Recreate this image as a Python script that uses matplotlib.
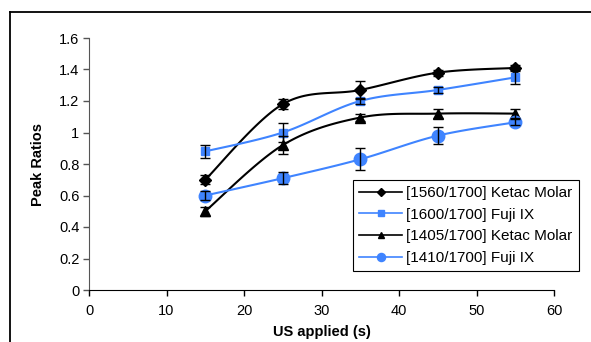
import matplotlib
matplotlib.use("Agg")
import matplotlib.pyplot as plt
import numpy as np
from matplotlib.lines import Line2D

plt.rcParams["font.family"] = ["Liberation Sans", "DejaVu Sans"]
plt.rcParams["font.size"] = 10.5

x = [15, 25, 35, 45, 55]
ketac_1560 = [0.70, 1.18, 1.27, 1.38, 1.41]
ketac_1560_err = [0.03, 0.03, 0.055, 0.02, 0.02]
fuji_1600 = [0.88, 1.00, 1.20, 1.27, 1.35]
fuji_1600_err = [0.04, 0.06, 0.02, 0.02, 0.045]
ketac_1405 = [0.50, 0.92, 1.095, 1.12, 1.12]
ketac_1405_err = [0.03, 0.055, 0.02, 0.03, 0.03]
fuji_1410 = [0.60, 0.71, 0.83, 0.98, 1.065]
fuji_1410_err = [0.03, 0.04, 0.07, 0.055, 0.02]

labels = ["[1560/1700] Ketac Molar", "[1600/1700] Fuji IX",
          "[1405/1700] Ketac Molar", "[1410/1700] Fuji IX"]

BLUE = "#3F84FF"


def smooth(xs, ys, n=30):
    # excel-style bezier smoothing through the points
    xs = np.asarray(xs, float)
    ys = np.asarray(ys, float)
    px = np.concatenate([[xs[0]], xs, [xs[-1]]])
    py = np.concatenate([[ys[0]], ys, [ys[-1]]])
    outx, outy = [], []
    t = np.linspace(0, 1, n)
    for i in range(1, len(px) - 2):
        p0 = np.array([px[i], py[i]])
        p3 = np.array([px[i + 1], py[i + 1]])
        p1 = p0 + (np.array([px[i + 1], py[i + 1]]) - np.array([px[i - 1], py[i - 1]])) / 6
        p2 = p3 - (np.array([px[i + 2], py[i + 2]]) - np.array([px[i], py[i]])) / 6
        b = ((1 - t) ** 3)[:, None] * p0 + (3 * (1 - t) ** 2 * t)[:, None] * p1 \
            + (3 * (1 - t) * t ** 2)[:, None] * p2 + (t ** 3)[:, None] * p3
        outx.extend(b[:, 0])
        outy.extend(b[:, 1])
    return outx, outy


fig = plt.figure(figsize=(5.91, 3.42), dpi=100)
ax = fig.add_axes([89 / 591, 52 / 342, 465 / 591, 252 / 342])

series = [
    (ketac_1560, ketac_1560_err, "black", "D", 6),
    (fuji_1600, fuji_1600_err, BLUE, "s", 6),
    (ketac_1405, ketac_1405_err, "black", "^", 7),
    (fuji_1410, fuji_1410_err, BLUE, "o", 9),
]
handles = []
for (vals, err, col, mk, ms), lab in zip(series, labels):
    sx, sy = smooth(x, vals)
    ax.plot(sx, sy, color=col, lw=1.5, zorder=2)
    ax.plot(x, vals, ls="none", marker=mk, ms=ms, color=col, zorder=3)
    ax.errorbar(x, vals, yerr=err, fmt="none", ecolor="black", elinewidth=1,
                capsize=3.5, capthick=1, zorder=4)
    handles.append(Line2D([], [], color=col, lw=1.2, marker=mk, ms=ms * 0.65))

ax.set_xlim(0, 60)
ax.set_ylim(0, 1.6)
ax.set_xticks(np.arange(0, 61, 10))
ax.set_yticks(np.arange(0, 1.61, 0.2))
ax.set_yticklabels(["0", "0.2", "0.4", "0.6", "0.8", "1", "1.2", "1.4", "1.6"])
ax.spines["top"].set_visible(False)
ax.spines["right"].set_visible(False)
ax.spines["left"].set_color("#555555")
ax.tick_params(direction="out", length=4, width=1)
ax.tick_params(axis="x", pad=6)
ax.tick_params(axis="y", colors="#555555", labelcolor="black", pad=3)
ax.set_xlabel("US applied (s)", fontweight="bold", labelpad=5)
ax.set_ylabel("Peak Ratios", fontweight="bold", labelpad=10)

leg = ax.legend(handles, labels, loc="upper left", fontsize=11,
                bbox_to_anchor=(353 / 591, 1 - 180 / 342), bbox_transform=fig.transFigure,
                fancybox=False, framealpha=1, edgecolor="black", handlelength=2.8,
                borderpad=0.4, labelspacing=0.5, handletextpad=0.3, borderaxespad=0)
leg.get_frame().set_linewidth(0.8)

# outer chart frame (cut off at the right and bottom)
fig.add_artist(Line2D([10 / 591, 1], [1 - 12 / 342, 1 - 12 / 342], color="black", lw=1.3,
                      transform=fig.transFigure))
fig.add_artist(Line2D([10 / 591, 10 / 591], [0, 1 - 12 / 342], color="black", lw=1.3,
                      transform=fig.transFigure))

fig.savefig("out.png", dpi=100)
